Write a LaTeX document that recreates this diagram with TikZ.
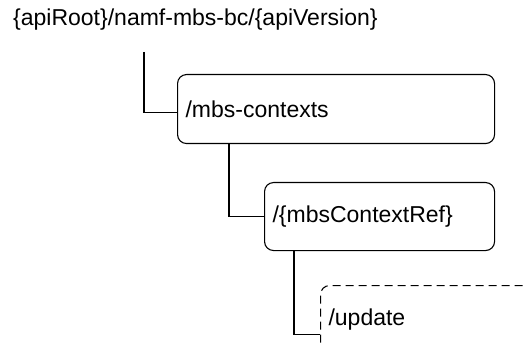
\documentclass[tikz,border=0pt]{standalone}
\usepackage{fontspec}
\setmainfont{Liberation Sans}
\usetikzlibrary{calc}
\begin{document}
\begin{tikzpicture}[x=1pt,y=-1pt,
  txt/.style={font=\fontsize{23}{27}\selectfont},
  resbox/.style={txt, draw, line width=1.1pt, rounded corners=9pt, anchor=north west,
    align=left, inner xsep=8pt, inner ysep=0pt},
  conn/.style={draw, line width=1.1pt}]
\useasboundingbox (0,0) rectangle (524,347);
\node[txt, anchor=west, inner sep=0pt] (root) at (13,20) {\{apiRoot\}/namf-mbs-bc/\{apiVersion\}};
\node[resbox, minimum width=317pt, minimum height=69pt, text width=301pt] (b1) at (177,74) {/mbs-contexts};
\node[resbox, minimum width=230pt, minimum height=68pt, text width=214pt] (b2) at (264,182) {/\{mbsContextRef\}};
\node[resbox, dash pattern=on 8pt off 5pt, minimum width=250pt, minimum height=68pt, text width=234pt] (b3) at (320,285) {/update};
\coordinate (c1) at (144,52);
\draw[conn] (c1) |- ($(b1.west)+(0,3.5)$);
\draw[conn] ($(b1.south west)+(52,0)$) |- (b2.west);
\draw[conn] ($(b2.south west)+(30,0)$) |- ($(b3.west)+(0,15)$);
\end{tikzpicture}
\end{document}
